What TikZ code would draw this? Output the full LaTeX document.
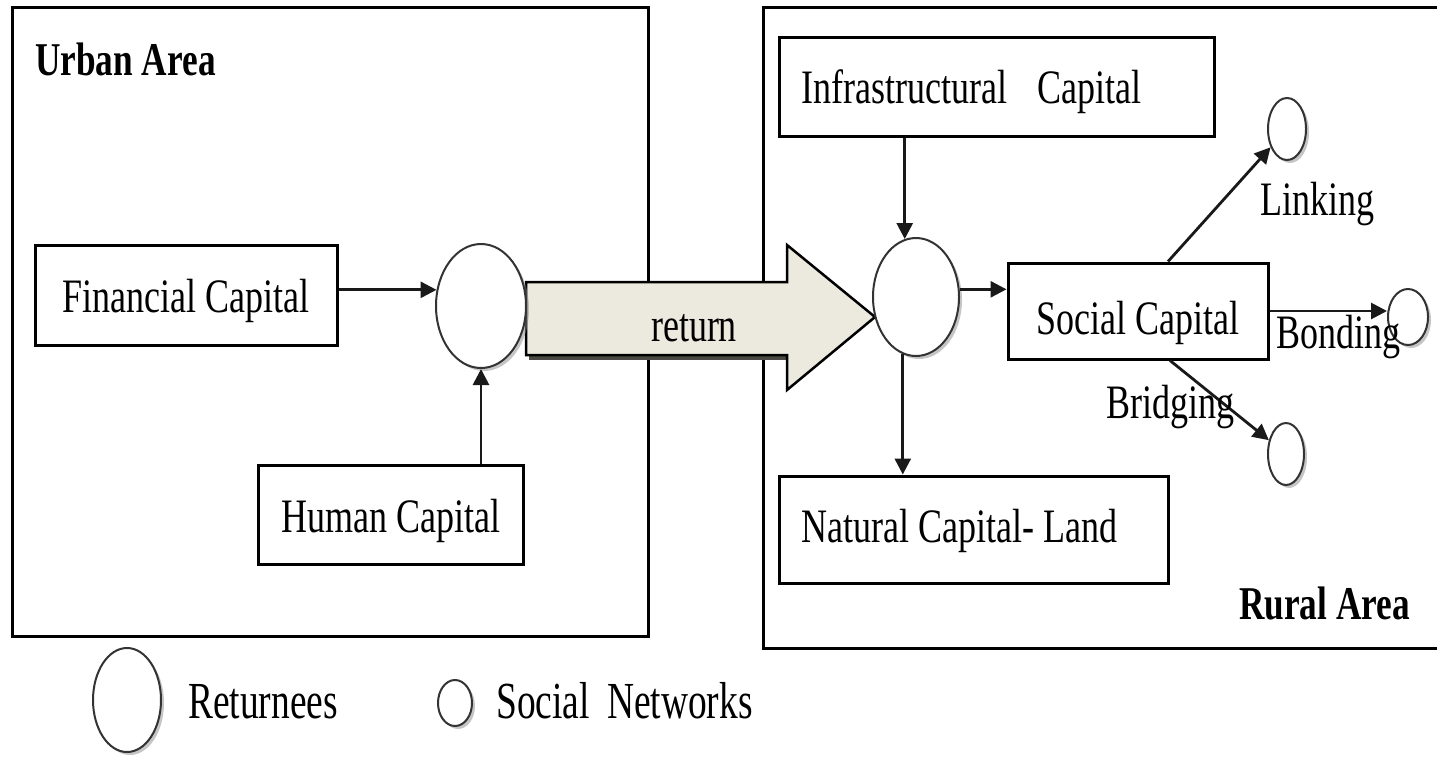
\documentclass[tikz,border=0pt]{standalone}
\usepackage{fontspec}
\setmainfont{Liberation Serif}[FakeStretch=0.75]
\newfontfamily\legendfont{Liberation Serif}[FakeStretch=0.72]
\usetikzlibrary{shapes.geometric,arrows.meta,shadows,calc}

\definecolor{arrowfill}{HTML}{ECEADF}
\definecolor{arrowshade}{HTML}{4A4944}

\tikzset{
  area/.style={draw=black, line width=3pt},
  capbox/.style={draw=black, line width=3pt, fill=white, inner sep=0pt, text depth=0pt},
  circ/.style={ellipse, draw=black!80, line width=2pt, fill=white, inner sep=0pt,
    drop shadow={shadow xshift=3pt, shadow yshift=-3pt, fill=black!45}},
  conn/.style={line width=2.8pt, draw=black!90, -{Triangle[length=16pt,width=16pt]}},
  lbl/.style={anchor=base west, inner sep=0pt},
  bigfont/.style={font=\fontsize{48}{52}\selectfont},
  legfont/.style={font=\legendfont\fontsize{52}{56}\selectfont}
}

\begin{document}
\begin{tikzpicture}[x=1pt, y=-1pt, bigfont]
  \useasboundingbox (0,0) rectangle (1437,756);

  % the two areas
  \draw[area] (12,7) rectangle (648,636);
  \draw[area] (1440,7) -- (763,7) -- (763,648) -- (1440,648);
  \node[lbl, font=\bfseries\fontsize{47}{50}\selectfont] (urban) at (35,75) {Urban Area};
  \node[lbl, font=\bfseries\fontsize{47}{50}\selectfont] (rural) at (1239,619) {Rural Area};

  % block arrow for the return move
  \fill[arrowshade] (529,351) rectangle (787,360);
  \draw[fill=arrowfill, line width=2.5pt, line join=miter]
    (526,282) -- (787,282) -- (787,245) -- (875,317) -- (787,390) -- (787,355) -- (526,355) -- cycle;
  \node (ret) at (694,328) {return};

  % capital boxes
  \node[capbox, text height=34pt, minimum width=302pt, minimum height=100pt] (fin) at (186,295)
    {Financial Capital};
  \node[capbox, text height=35pt, minimum width=265pt, minimum height=99pt] (hum) at (390.5,514.5)
    {Human Capital};
  \node[capbox, text height=33pt, minimum width=435pt, minimum height=99pt] (infra) at (996.5,86.5)
    {Infrastructural\hspace*{30pt}Capital\hspace*{50pt}};
  \node[capbox, text height=46pt, minimum width=260pt, minimum height=96pt] (soc) at (1138,311)
    {Social Capital};
  \node[capbox, text height=25pt, minimum width=389pt, minimum height=107pt] (nat) at (973.5,529.5)
    {Natural Capital- Land\hspace*{29pt}};

  % returnees
  \node[circ, minimum width=90pt, minimum height=124pt] (ret1) at (481,306) {};
  \node[circ, minimum width=86pt, minimum height=118pt] (ret2) at (916,297) {};

  % social networks
  \node[circ, minimum width=38pt, minimum height=62pt] (lnk) at (1287,129) {};
  \node[circ, minimum width=40pt, minimum height=56pt] (bond) at (1408,317) {};
  \node[circ, minimum width=36pt, minimum height=62pt] (brg) at (1286,454) {};

  % connectors
  \draw[conn] (fin.east |- ret1.160) -- (ret1.160);
  \draw[conn] (ret1.south |- hum.north) -- (ret1.south);
  \draw[conn] (ret2.101 |- infra.south) -- (ret2.101);
  \draw[conn] (ret2.257) -- (ret2.257 |- nat.north);
  \draw[conn] (ret2.10) -- (ret2.10 -| soc.west);
  \coordinate (s1) at ($(soc.north)+(30,0)$);
  \coordinate (s2) at ($(soc.south)+(32,0)$);
  \draw[conn] (s1) -- (lnk);
  \draw[conn] (soc.east) -- (soc.east -| bond.west);
  \draw[conn] (s2) -- (brg);

  % network labels
  \node[lbl] (tlnk) at (1260,215) {Linking};
  \node[lbl] (tbond) at (1276,348) {Bonding};
  \node[lbl] (tbrg) at (1106,418) {Bridging};

  % legend
  \node[circ, minimum width=68pt, minimum height=104pt] (leg1) at (127,700) {};
  \node[lbl, legfont] (tleg1) at (188,718) {Returnees};
  \node[circ, minimum width=34pt, minimum height=46pt] (leg2) at (455,703) {};
  \node[lbl, legfont] (tleg2) at (496,718) {Social\hspace*{8pt} Networks};
\end{tikzpicture}
\end{document}
